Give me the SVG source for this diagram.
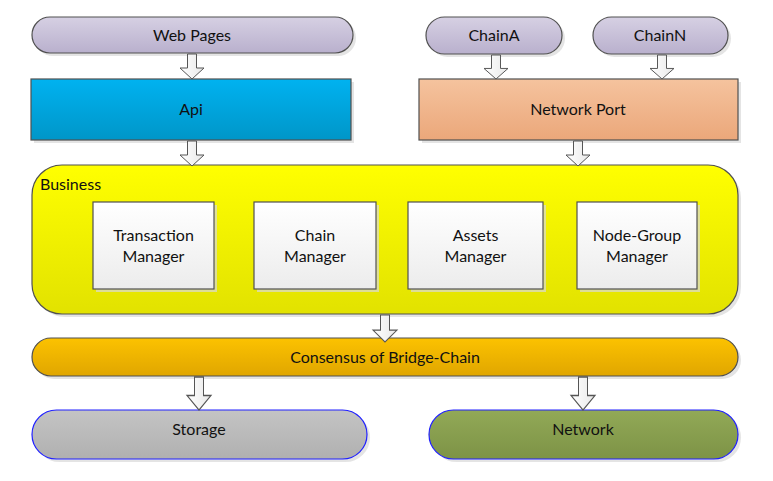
<svg xmlns="http://www.w3.org/2000/svg" width="773" height="481" viewBox="0 0 773 481">
<defs>
<linearGradient id="gPurple" x1="0" y1="0" x2="0" y2="1"><stop offset="0" stop-color="#d6d0e3"/><stop offset="1" stop-color="#b9b0cd"/></linearGradient>
<linearGradient id="gBlue" x1="0" y1="0" x2="0" y2="1"><stop offset="0" stop-color="#00b2f0"/><stop offset="1" stop-color="#0096c8"/></linearGradient>
<linearGradient id="gOrange" x1="0" y1="0" x2="0" y2="1"><stop offset="0" stop-color="#f5c39e"/><stop offset="1" stop-color="#eba77a"/></linearGradient>
<linearGradient id="gYellow" x1="0" y1="0" x2="0" y2="1"><stop offset="0" stop-color="#ffff00"/><stop offset="1" stop-color="#e2e200"/></linearGradient>
<linearGradient id="gGold" x1="0" y1="0" x2="0" y2="1"><stop offset="0" stop-color="#fcc200"/><stop offset="1" stop-color="#e0a600"/></linearGradient>
<linearGradient id="gGray" x1="0" y1="0" x2="0" y2="1"><stop offset="0" stop-color="#c4c4c4"/><stop offset="1" stop-color="#b0b0b0"/></linearGradient>
<linearGradient id="gOlive" x1="0" y1="0" x2="0" y2="1"><stop offset="0" stop-color="#92a957"/><stop offset="1" stop-color="#7d9346"/></linearGradient>
<linearGradient id="gWhite" x1="0" y1="0" x2="0" y2="1"><stop offset="0" stop-color="#ffffff"/><stop offset="1" stop-color="#ececec"/></linearGradient>
<linearGradient id="gArrow" x1="0" y1="0" x2="1" y2="0"><stop offset="0" stop-color="#ffffff"/><stop offset="1" stop-color="#e8e8e8"/></linearGradient>
<path id="arr" d="M-4.5,0 H4.5 V14 H12 L0,25 L-12,14 H-4.5 Z"/>
</defs>
<style>
text{font-family:Lato,"Open Sans","Liberation Sans",sans-serif;font-size:16px;fill:#111;text-anchor:middle}
.sh{fill:#d9d9d9;opacity:0.7}
.node{stroke:#505050;stroke-width:1.2}
.blue{stroke:#2020ff;stroke-width:1.2}
.arrow{fill:url(#gArrow);stroke:#555;stroke-width:1}
</style>
<rect width="773" height="481" fill="#fff"/>

<g id="web-pages">
<rect class="sh" x="35" y="20" width="321" height="36" rx="18"/>
<rect class="node" x="32" y="17" width="321" height="36" rx="18" fill="url(#gPurple)"/>
<text x="192" y="40.5">Web Pages</text>
</g>
<g id="chain-a">
<rect class="sh" x="429" y="20" width="136" height="37" rx="18.5"/>
<rect class="node" x="426" y="17" width="136" height="37" rx="18.5" fill="url(#gPurple)"/>
<text x="494" y="40.5">ChainA</text>
</g>
<g id="chain-n">
<rect class="sh" x="596" y="20" width="135" height="37" rx="18.5"/>
<rect class="node" x="593" y="17" width="135" height="37" rx="18.5" fill="url(#gPurple)"/>
<text x="660" y="40.5">ChainN</text>
</g>
<g id="api">
<rect class="sh" x="34" y="82" width="320" height="61"/>
<rect class="node" x="31" y="79" width="320" height="61" fill="url(#gBlue)"/>
<text x="191" y="114.5">Api</text>
</g>
<g id="network-port">
<rect class="sh" x="422" y="82" width="319" height="61"/>
<rect class="node" x="419" y="79" width="319" height="61" fill="url(#gOrange)"/>
<text x="578" y="114.5">Network Port</text>
</g>
<g id="business">
<rect class="sh" x="35" y="168" width="706" height="149" rx="30"/>
<rect class="node" x="32" y="165" width="706" height="149" rx="30" fill="url(#gYellow)"/>
<text x="40" y="190" style="text-anchor:start">Business</text>
</g>
<g id="transaction-manager">
<rect class="sh" x="96" y="205" width="121" height="87"/>
<rect class="node" x="93" y="202" width="121" height="87" fill="url(#gWhite)"/>
<text x="153.5" y="241">Transaction</text>
<text x="153.5" y="262">Manager</text>
</g>
<g id="chain-manager">
<rect class="sh" x="257" y="205" width="122" height="87"/>
<rect class="node" x="254" y="202" width="122" height="87" fill="url(#gWhite)"/>
<text x="315" y="241">Chain</text>
<text x="315" y="262">Manager</text>
</g>
<g id="assets-manager">
<rect class="sh" x="411" y="205" width="135" height="87"/>
<rect class="node" x="408" y="202" width="135" height="87" fill="url(#gWhite)"/>
<text x="475.5" y="241">Assets</text>
<text x="475.5" y="262">Manager</text>
</g>
<g id="node-group-manager">
<rect class="sh" x="580" y="205" width="120" height="87"/>
<rect class="node" x="577" y="202" width="120" height="87" fill="url(#gWhite)"/>
<text x="637" y="241">Node-Group</text>
<text x="637" y="262">Manager</text>
</g>
<g id="consensus">
<rect class="sh" x="35" y="341" width="706" height="38" rx="19"/>
<rect class="node" x="32" y="338" width="706" height="38" rx="19" fill="url(#gGold)"/>
<text x="385" y="362.5">Consensus of Bridge-Chain</text>
</g>
<g id="storage">
<rect class="sh" x="35" y="413" width="335" height="49" rx="24.5"/>
<rect class="blue" x="32" y="410" width="335" height="49" rx="24.5" fill="url(#gGray)"/>
<text x="199" y="434.5">Storage</text>
</g>
<g id="network">
<rect class="sh" x="432" y="413" width="309" height="49" rx="24.5"/>
<rect class="blue" x="429" y="410" width="309" height="49" rx="24.5" fill="url(#gOlive)"/>
<text x="583" y="434.5">Network</text>
</g>

<g id="connectors">
<use href="#arr" class="arrow" transform="translate(192,54)"/>
<use href="#arr" class="arrow" transform="translate(496,55) scale(1,0.96)"/>
<use href="#arr" class="arrow" transform="translate(662,55) scale(1,0.96)"/>
<use href="#arr" class="arrow" transform="translate(192,141)"/>
<use href="#arr" class="arrow" transform="translate(578,141)"/>
<use href="#arr" class="arrow" transform="translate(385,315) scale(1,1.08)"/>
<use href="#arr" class="arrow" transform="translate(199,377) scale(1,1.32)"/>
<use href="#arr" class="arrow" transform="translate(583,377) scale(1,1.32)"/>
</g>
</svg>
